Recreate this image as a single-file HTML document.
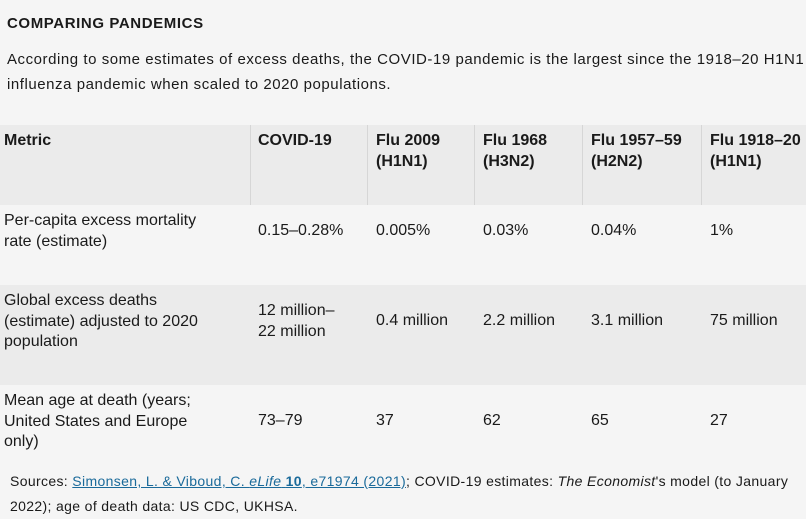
<!DOCTYPE html>
<html><head><meta charset="utf-8"><style>
body{margin:0;width:806px;height:513px;overflow:hidden;background:#f5f5f5;font-family:"Liberation Sans",sans-serif;color:#1a1a1a;position:relative}
.a{position:absolute;white-space:nowrap}
.t{font-size:16px;line-height:20.5px}
.b{font-weight:bold}
.bg{position:absolute;left:0;width:806px}
.vl{position:absolute;top:125px;height:80px;width:1px;background:#d6d6d6}
</style></head><body>
<div class="a b" style="left:7px;top:15px;font-size:15px;letter-spacing:0.6px">COMPARING PANDEMICS</div>
<div class="a" style="left:7px;top:47px;font-size:15px;line-height:25px;letter-spacing:0.55px">According to some estimates of excess deaths, the COVID-19 pandemic is the largest since the 1918–20 H1N1<br>influenza pandemic when scaled to 2020 populations.</div>

<div class="bg" style="top:125px;height:80px;background:#ebebeb"></div>
<div class="bg" style="top:285px;height:100px;background:#ebebeb"></div>
<div class="vl" style="left:250px"></div>
<div class="vl" style="left:367px"></div>
<div class="vl" style="left:474px"></div>
<div class="vl" style="left:582px"></div>
<div class="vl" style="left:701px"></div>

<div class="a t b" style="left:4px;top:131px">Metric</div>
<div class="a t b" style="left:258px;top:131px">COVID-19</div>
<div class="a t b" style="left:376px;top:131px">Flu 2009<br>(H1N1)</div>
<div class="a t b" style="left:483px;top:131px">Flu 1968<br>(H3N2)</div>
<div class="a t b" style="left:591px;top:131px">Flu 1957–59<br>(H2N2)</div>
<div class="a t b" style="left:710px;top:131px">Flu 1918–20<br>(H1N1)</div>

<div class="a t" style="left:4px;top:211px">Per-capita excess mortality<br>rate (estimate)</div>
<div class="a t" style="left:258px;top:221px">0.15–0.28%</div>
<div class="a t" style="left:376px;top:221px">0.005%</div>
<div class="a t" style="left:483px;top:221px">0.03%</div>
<div class="a t" style="left:591px;top:221px">0.04%</div>
<div class="a t" style="left:710px;top:221px">1%</div>

<div class="a t" style="left:4px;top:291px">Global excess deaths<br>(estimate) adjusted to 2020<br>population</div>
<div class="a t" style="left:258px;top:301px">12 million–<br>22 million</div>
<div class="a t" style="left:376px;top:311px">0.4 million</div>
<div class="a t" style="left:483px;top:311px">2.2 million</div>
<div class="a t" style="left:591px;top:311px">3.1 million</div>
<div class="a t" style="left:710px;top:311px">75 million</div>

<div class="a t" style="left:4px;top:391px">Mean age at death (years;<br>United States and Europe<br>only)</div>
<div class="a t" style="left:258px;top:411px">73–79</div>
<div class="a t" style="left:376px;top:411px">37</div>
<div class="a t" style="left:483px;top:411px">62</div>
<div class="a t" style="left:591px;top:411px">65</div>
<div class="a t" style="left:710px;top:411px">27</div>

<div class="a" style="left:10px;top:469px;font-size:14px;line-height:25px;letter-spacing:0.35px">Sources: <span style="color:#1a6a9a;text-decoration:underline">Simonsen, L. &amp; Viboud, C. <i>eLife</i> <b>10</b>, e71974 (2021)</span>; COVID-19 estimates: <i>The Economist</i>'s model (to January<br>2022); age of death data: US CDC, UKHSA.</div>
</body></html>
